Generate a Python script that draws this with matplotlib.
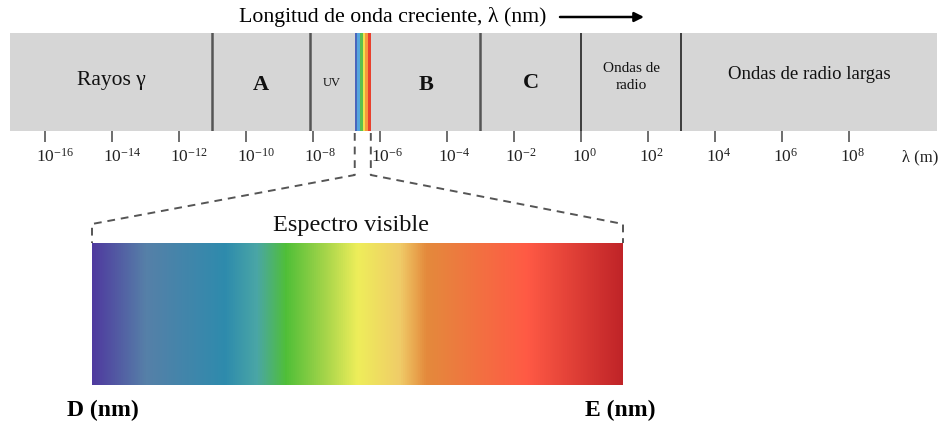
import numpy as np
import matplotlib
matplotlib.use("Agg")
import matplotlib.pyplot as plt
from matplotlib.colors import LinearSegmentedColormap
from matplotlib.transforms import ScaledTranslation

plt.rcParams['font.family'] = ['Liberation Serif', 'DejaVu Serif']
plt.rcParams['mathtext.fontset'] = 'stix'

# ---- data ----
# band edges as log10(lambda / m)
region_edges = [-17.04, -11.0, -8.1, -6.75, -6.27, -3.0, 0.0, 3.0, 10.63]
region_names = ["Rayos γ", "A", "UV", None, "B", "C", "Ondas de\nradio", "Ondas de radio largas"]
region_bold = [False, True, False, False, True, True, False, False]
region_size = [15.5, 16, 9, 0, 16, 16, 11, 13.5]
region_text_y = [0.52, 0.47, 0.49, 0, 0.47, 0.49, 0.55, 0.58]

tick_exponents = list(range(-16, 9, 2))

band_stripes = ["#4a66bc", "#56a6dc", "#5cbf4e", "#f2e04c", "#f49a3c", "#e8402e"]

spectrum_pos = [0.0, 0.10, 0.25, 0.31, 0.365, 0.44, 0.50, 0.58, 0.63, 0.82, 1.0]
spectrum_colors = ["#4f3a9f", "#5680a8", "#2e8bad", "#4aa6a6", "#50bf38", "#a6d54a",
                   "#eeee5a", "#f0cc68", "#e48a3c", "#ff5a45", "#c02428"]

title = "Longitud de onda creciente, λ (nm)"
left_label = "D (nm)"
right_label = "E (nm)"

W, H = 947, 425
fig = plt.figure(figsize=(W / 100, H / 100), dpi=100)

# ---- top band on a log axis ----
ax = fig.add_axes([10 / W, 1 - 131 / H, 927 / W, 98 / H])
ax.set_xscale('log')
ax.set_xlim(10 ** region_edges[0], 10 ** region_edges[-1])
ax.set_ylim(0, 1)
ax.axvspan(10 ** region_edges[0], 10 ** region_edges[-1], color="#d6d6d6", lw=0)

vis_lo, vis_hi = 10 ** region_edges[3], 10 ** region_edges[4]
stripe_edges = np.logspace(region_edges[3], region_edges[4], len(band_stripes) + 1)
for c, a, b in zip(band_stripes, stripe_edges[:-1], stripe_edges[1:]):
    ax.axvspan(a, b, color=c, lw=0)

for e in [region_edges[1], region_edges[2], region_edges[5]]:
    ax.axvline(10 ** e, color="#555555", lw=1.8)
for e in [region_edges[6], region_edges[7]]:
    ax.axvline(10 ** e, color="#222222", lw=1.2)

for i, name in enumerate(region_names):
    if name is None:
        continue
    xc = 10 ** ((region_edges[i] + region_edges[i + 1]) / 2)
    ax.text(xc, region_text_y[i], name, ha='center', va='center',
            fontsize=region_size[i], fontweight='bold' if region_bold[i] else 'normal',
            linespacing=1.4, color="#111111")

ax.set_xticks([10.0 ** e for e in tick_exponents])
ax.xaxis.set_minor_locator(matplotlib.ticker.NullLocator())
ax.set_yticks([])
ax.tick_params(axis='x', direction='out', length=8, width=1.2, color="#555555",
               labelsize=12.5, pad=4, labelcolor="#222222")
for s in ax.spines.values():
    s.set_visible(False)

# keep the "10" base centred under each tick
shift = ScaledTranslation(-9 / 100, 0, fig.dpi_scale_trans)
for lab in ax.get_xticklabels():
    lab.set_horizontalalignment('left')
    lab.set_transform(lab.get_transform() + shift)

fig.text(920 / W, 1 - 157 / H, "λ (m)", ha='center', va='center', fontsize=12, color="#222222")

# ---- overlay in pixel coordinates ----
ov = fig.add_axes([0, 0, 1, 1])
ov.set_xlim(0, W)
ov.set_ylim(H, 0)
ov.axis('off')

fig.canvas.draw()
px_lo = ax.transData.transform((vis_lo, 0.5))[0]
px_hi = ax.transData.transform((vis_hi, 0.5))[0]

spec_l, spec_r, spec_t, spec_b = 92, 623, 243, 385
cmap = LinearSegmentedColormap.from_list("vis", list(zip(spectrum_pos, spectrum_colors)))
grad = np.linspace(0, 1, 512).reshape(1, -1)
ov.imshow(grad, cmap=cmap, aspect='auto', extent=(spec_l, spec_r, spec_b, spec_t),
          interpolation='bilinear')

dash = dict(color="#555555", lw=1.4, dashes=(4, 3))
ov.plot([px_lo, px_lo, spec_l, spec_l], [133, 175, 224, spec_t], **dash)
ov.plot([px_hi, px_hi, spec_r, spec_r], [133, 175, 224, spec_t], **dash)

ov.text(351, 225, "Espectro visible", ha='center', va='center', fontsize=17.5, color="#111111")
ov.text(103, 410, left_label, ha='center', va='center', fontsize=17, fontweight='bold')
ov.text(620, 410, right_label, ha='center', va='center', fontsize=17, fontweight='bold')

ov.text(393, 17, title, ha='center', va='center', fontsize=15.7)
ov.annotate("", xy=(644, 17), xytext=(560, 17),
            arrowprops=dict(arrowstyle='-|>', color='black', lw=1.8,
                            mutation_scale=14, shrinkA=0, shrinkB=0))

ov.set_xlim(0, W)
ov.set_ylim(H, 0)

fig.savefig("out.png", dpi=100)
